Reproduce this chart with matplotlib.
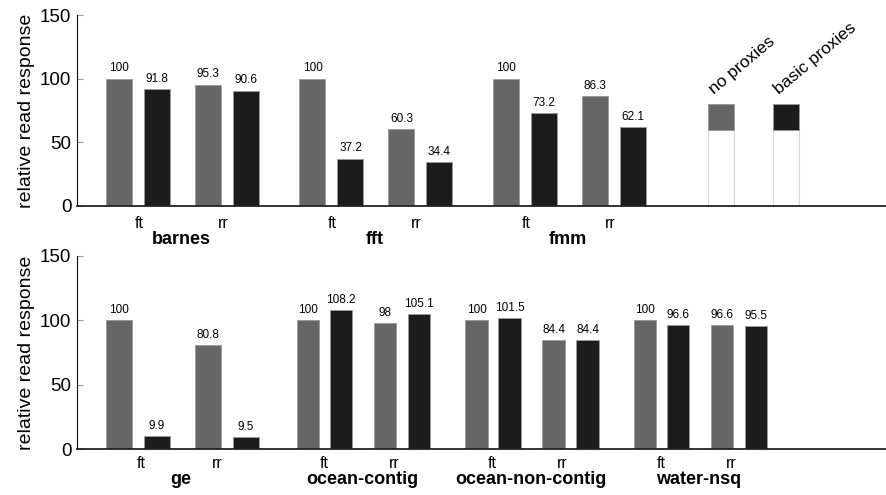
import matplotlib
matplotlib.use("Agg")
import matplotlib.pyplot as plt

plt.rcParams["font.family"] = ["Liberation Sans", "DejaVu Sans"]

# -- Data ---------------------------------------------------------------------
CONFIGS = ["ft", "rr"]
SERIES = ["no proxies", "basic proxies"]

TOP_GROUPS = ["barnes", "fft", "fmm"]
TOP_NO_PROXIES = [[100, 95.3], [100, 60.3], [100, 86.3]]
TOP_BASIC_PROXIES = [[91.8, 90.6], [37.2, 34.4], [73.2, 62.1]]

BOTTOM_GROUPS = ["ge", "ocean-contig", "ocean-non-contig", "water-nsq"]
BOTTOM_NO_PROXIES = [[100, 80.8], [100, 98], [100, 84.4], [100, 96.6]]
BOTTOM_BASIC_PROXIES = [[9.9, 9.5], [108.2, 105.1], [101.5, 84.4], [96.6, 95.5]]

LEGEND_TOP = 80
LEGEND_SOLID = 20

# -- Style / layout (x in figure pixels) --------------------------------------
W, H = 886, 495
GRAY = "#666666"
BLACK = "#1c1c1c"
COLORS = [GRAY, BLACK]
X_LEFT = 77

# wide layout: offsets of [ft-no, ft-basic, rr-no, rr-basic], bar width,
# group name offset, ft/rr label offsets relative to name
WIDE = dict(offs=[0, 38, 89, 127], width=26, name=75, lab=(-42, 42))
NARROW = dict(offs=[0, 33, 77, 111], width=22.5, name=65, lab=(-38, 32))


def setup_axes(fig, top_px, bottom_px):
    ax = fig.add_axes([X_LEFT / W, 1 - bottom_px / H,
                       (W - X_LEFT) / W, (bottom_px - top_px) / H])
    ax.set_xlim(X_LEFT, W)
    ax.set_ylim(0, 150)
    ax.set_yticks([0, 50, 100, 150])
    ax.tick_params(axis="y", labelsize=13.5, length=4, direction="in",
                   color="#999999", pad=4)
    ax.set_xticks([])
    for s in ["top", "right"]:
        ax.spines[s].set_visible(False)
    ax.spines["left"].set_color("#111111")
    ax.spines["bottom"].set_color("#222222")
    ax.spines["bottom"].set_linewidth(1.3)
    ax.set_ylabel("relative read response", fontsize=14, labelpad=4)
    return ax


def draw_group(ax, start, layout, name, no_vals, basic_vals,
               lab_shift=(0, 0), dy=(-6, -18)):
    vals = [no_vals[0], basic_vals[0], no_vals[1], basic_vals[1]]
    w = layout["width"]
    for k, (off, v) in enumerate(zip(layout["offs"], vals)):
        x = start + off
        ax.bar(x, v, width=w, align="edge", color=COLORS[k % 2],
               edgecolor="#9a9a9a", linewidth=0.6, zorder=2)
        ax.annotate(f"{v:g}", (x + w / 2, v), xytext=(0, 3),
                    textcoords="offset points", ha="center", va="bottom",
                    fontsize=8.5)
    xname = start + layout["name"]
    trans = ax.get_xaxis_transform()
    for cfg, dx, sh in zip(CONFIGS, layout["lab"], lab_shift):
        ax.annotate(cfg, (xname + dx + sh, 0), xycoords=trans,
                    xytext=(0, dy[0]), textcoords="offset points",
                    ha="center", va="top", fontsize=11.5)
    ax.annotate(name, (xname, 0), xycoords=trans, xytext=(0, dy[1]),
                textcoords="offset points", ha="center", va="top",
                fontsize=13, fontweight="bold")


fig = plt.figure(figsize=(W / 100, H / 100), dpi=100)

# -- top panel ----------------------------------------------------------------
ax1 = setup_axes(fig, 15, 206)
for g, name in enumerate(TOP_GROUPS):
    draw_group(ax1, 106 + 193.5 * g, WIDE, name,
               TOP_NO_PROXIES[g], TOP_BASIC_PROXIES[g], dy=(-7, -18))

# legend drawn as bars
for k, (label, x) in enumerate(zip(SERIES, [708, 773])):
    ax1.bar(x, LEGEND_TOP - LEGEND_SOLID, width=26, align="edge",
            color="white", edgecolor="#d6d6d6", linewidth=0.8)
    ax1.bar(x, LEGEND_SOLID, bottom=LEGEND_TOP - LEGEND_SOLID, width=26,
            align="edge", color=COLORS[k], edgecolor="#9a9a9a", linewidth=0.6)
    ax1.annotate(label, (x, LEGEND_TOP), xytext=(6, 5),
                 textcoords="offset points", rotation=40,
                 rotation_mode="anchor", ha="left", va="bottom", fontsize=12.5)

# -- bottom panel -------------------------------------------------------------
ax2 = setup_axes(fig, 256, 449)
draw_group(ax2, 106, WIDE, BOTTOM_GROUPS[0], BOTTOM_NO_PROXIES[0],
           BOTTOM_BASIC_PROXIES[0], lab_shift=(2, -6), dy=(-5, -16))
for g in range(1, len(BOTTOM_GROUPS)):
    draw_group(ax2, 297 + 168.5 * (g - 1), NARROW, BOTTOM_GROUPS[g],
               BOTTOM_NO_PROXIES[g], BOTTOM_BASIC_PROXIES[g], dy=(-5, -16))

fig.savefig("out.png", dpi=100)
